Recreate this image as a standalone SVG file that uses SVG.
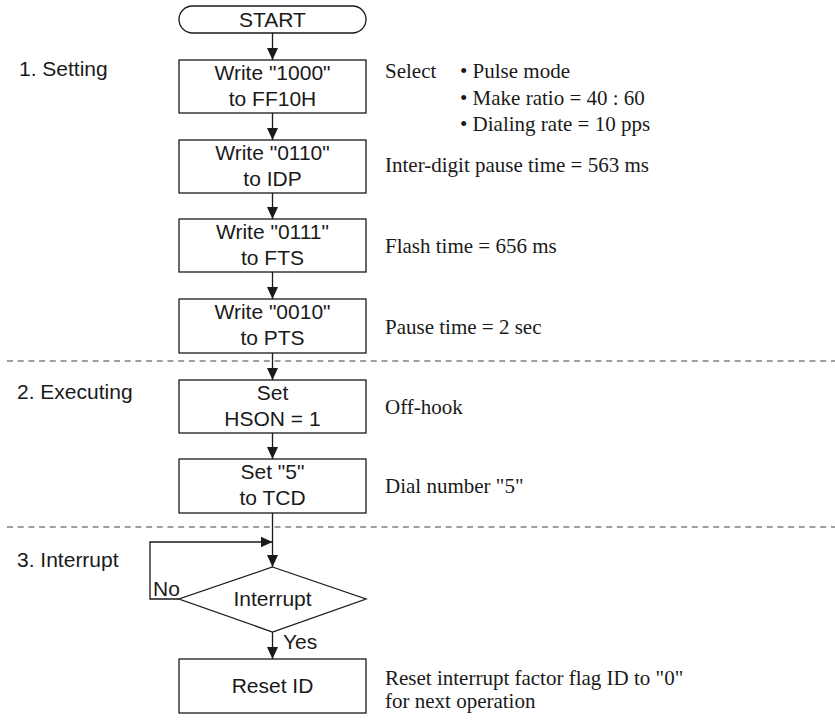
<svg xmlns="http://www.w3.org/2000/svg" width="835" height="721" viewBox="0 0 835 721">
<style>
.box{fill:#fff;stroke:#1a1a1a;stroke-width:1.3}
.sans{font-family:"Liberation Sans",Arial,sans-serif;font-size:21px;fill:#1a1a1a}
.mid{text-anchor:middle}
.serif{font-family:"Liberation Serif","Times New Roman",serif;font-size:21px;fill:#1a1a1a}
.dash{stroke:#808080;stroke-width:1.5;stroke-dasharray:6 4.7;fill:none}
.ln{stroke:#1a1a1a;stroke-width:1.3;fill:none}
</style>
<defs>
<marker id="ah" markerWidth="12" markerHeight="11" refX="12" refY="5.5" orient="auto" markerUnits="userSpaceOnUse">
<path d="M0,0 L12,5.5 L0,11 Z" fill="#1a1a1a"/>
</marker>
</defs>
<rect width="835" height="721" fill="#fff"/>
<g id="separators">
<line class="dash" x1="7" y1="361" x2="835" y2="361"/>
<line class="dash" x1="7" y1="527" x2="835" y2="527"/>
</g>
<g id="section-labels" class="sans">
<text x="19" y="76">1. Setting</text>
<text x="17" y="399">2. Executing</text>
<text x="17" y="567">3. Interrupt</text>
</g>
<g id="connectors">
<line class="ln" x1="272.5" y1="33" x2="272.5" y2="60" marker-end="url(#ah)"/>
<line class="ln" x1="272.5" y1="113" x2="272.5" y2="140" marker-end="url(#ah)"/>
<line class="ln" x1="272.5" y1="193" x2="272.5" y2="219" marker-end="url(#ah)"/>
<line class="ln" x1="272.5" y1="272" x2="272.5" y2="299" marker-end="url(#ah)"/>
<line class="ln" x1="272.5" y1="353" x2="272.5" y2="380" marker-end="url(#ah)"/>
<line class="ln" x1="272.5" y1="433" x2="272.5" y2="459" marker-end="url(#ah)"/>
<line class="ln" x1="272.5" y1="513" x2="272.5" y2="567" marker-end="url(#ah)"/>
<polyline class="ln" points="179,599 150,599 150,542 272.5,542" marker-end="url(#ah)"/>
<line class="ln" x1="272.5" y1="632" x2="272.5" y2="659" marker-end="url(#ah)"/>
<text class="sans" x="153" y="596">No</text>
<text class="sans" x="283" y="649">Yes</text>
</g>
<g id="start">
<rect class="box" x="179" y="6" width="187" height="27" rx="13.5" ry="13.5"/>
<text class="sans mid" x="272.5" y="27">START</text>
</g>
<g id="write-ff10h">
<rect class="box" x="179" y="60" width="187" height="53"/>
<text class="sans mid" x="272.5" y="80">Write "1000"</text>
<text class="sans mid" x="272.5" y="106">to FF10H</text>
</g>
<g id="write-idp">
<rect class="box" x="179" y="140" width="187" height="53"/>
<text class="sans mid" x="272.5" y="160">Write "0110"</text>
<text class="sans mid" x="272.5" y="186">to IDP</text>
</g>
<g id="write-fts">
<rect class="box" x="179" y="219" width="187" height="53"/>
<text class="sans mid" x="272.5" y="239">Write "0111"</text>
<text class="sans mid" x="272.5" y="265">to FTS</text>
</g>
<g id="write-pts">
<rect class="box" x="179" y="299" width="187" height="54"/>
<text class="sans mid" x="272.5" y="319">Write "0010"</text>
<text class="sans mid" x="272.5" y="345">to PTS</text>
</g>
<g id="set-hson">
<rect class="box" x="179" y="380" width="187" height="53"/>
<text class="sans mid" x="272.5" y="400">Set</text>
<text class="sans mid" x="272.5" y="426">HSON = 1</text>
</g>
<g id="set-tcd">
<rect class="box" x="179" y="459" width="187" height="54"/>
<text class="sans mid" x="272.5" y="479">Set "5"</text>
<text class="sans mid" x="272.5" y="505">to TCD</text>
</g>
<g id="interrupt">
<polygon class="box" points="272.5,567 366,599 272.5,632 179,599"/>
<text class="sans mid" x="272.5" y="606">Interrupt</text>
</g>
<g id="reset-id">
<rect class="box" x="179" y="659" width="187" height="54"/>
<text class="sans mid" x="272.5" y="693">Reset ID</text>
</g>
<g id="notes" class="serif">
<text x="385" y="78">Select</text>
<text x="460" y="78">• Pulse mode</text>
<text x="460" y="105">• Make ratio = 40 : 60</text>
<text x="460" y="131">• Dialing rate = 10 pps</text>
<text x="385" y="172">Inter-digit pause time = 563 ms</text>
<text x="385" y="253">Flash time = 656 ms</text>
<text x="385" y="334">Pause time = 2 sec</text>
<text x="385" y="414">Off-hook</text>
<text x="385" y="493">Dial number "5"</text>
<text x="385" y="685">Reset interrupt factor flag ID to "0"</text>
<text x="385" y="708">for next operation</text>
</g>
</svg>
